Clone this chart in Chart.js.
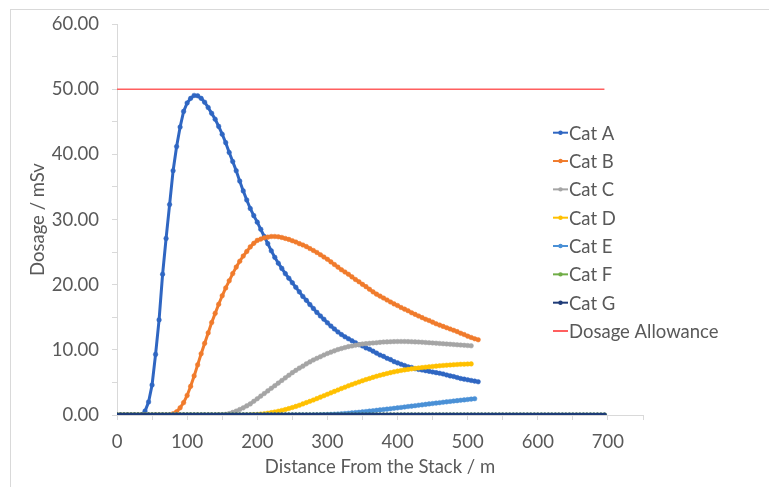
<!DOCTYPE html>
<html>
<head>
<meta charset="utf-8">
<script src="https://cdn.jsdelivr.net/npm/chart.js@4/dist/chart.umd.min.js"></script>
<style>
  html, body { margin: 0; padding: 0; background: #ffffff; }
  #wrap { width: 769px; height: 487px; position: relative; }
</style>
</head>
<body>
<div id="wrap"><canvas id="chart" width="769" height="487"></canvas></div>
<script>
// Distance from the stack (m), sampled every 5 m
const distance = [
  0, 5, 10, 15, 20, 25, 30, 35, 40, 45, 50, 55, 60, 65, 70, 75, 80, 85, 90, 95,
  100, 105, 110, 115, 120, 125, 130, 135, 140, 145, 150, 155, 160, 165, 170, 175, 180, 185, 190, 195,
  200, 205, 210, 215, 220, 225, 230, 235, 240, 245, 250, 255, 260, 265, 270, 275, 280, 285, 290, 295,
  300, 305, 310, 315, 320, 325, 330, 335, 340, 345, 350, 355, 360, 365, 370, 375, 380, 385, 390, 395,
  400, 405, 410, 415, 420, 425, 430, 435, 440, 445, 450, 455, 460, 465, 470, 475, 480, 485, 490, 495,
  500, 505, 510, 515, 520, 525, 530, 535, 540, 545, 550, 555, 560, 565, 570, 575, 580, 585, 590, 595,
  600, 605, 610, 615, 620, 625, 630, 635, 640, 645, 650, 655, 660, 665, 670, 675, 680, 685, 690, 695
];

// Dosage (mSv) per stability category
const catA = [
  0, 0, 0, 0, 0, 0, 0, 0, 0.6, 2.0, 4.6, 9.3, 14.6, 21.6, 27.1, 32.3, 37.5, 41.2, 44.2, 46.6,
  47.9, 48.6, 49.05, 49.0, 48.6, 48.0, 47.2, 46.3, 45.4, 44.3, 43.1, 41.8, 40.3, 38.9, 37.5, 35.9, 34.4, 33.0, 31.7, 30.6,
  29.6, 28.5, 27.4, 26.3, 25.2, 24.2, 23.3, 22.5, 21.7, 21.0, 20.3, 19.6, 18.9, 18.2, 17.6, 16.95, 16.35, 15.75, 15.2, 14.7,
  14.15, 13.65, 13.2, 12.75, 12.35, 12.0, 11.7, 11.4, 11.1, 10.8, 10.6, 10.3, 10.1, 9.8, 9.5, 9.2, 9.0, 8.7, 8.5, 8.2,
  8.0, 7.8, 7.6, 7.4, 7.3, 7.1, 7.0, 6.9, 6.8, 6.7, 6.6, 6.5, 6.4, 6.3, 6.15, 6.0, 5.9, 5.75, 5.6, 5.5,
  5.4, 5.3, 5.2, 5.1
];
const catB = [
  0, 0, 0, 0, 0, 0, 0, 0, 0, 0, 0, 0, 0, 0, 0, 0, 0.2, 0.5, 1.1, 1.9,
  3.0, 4.4, 6.0, 7.7, 9.4, 11.0, 12.6, 14.2, 15.6, 17.0, 18.3, 19.5, 20.6, 21.7, 22.7, 23.6, 24.4, 25.1, 25.8, 26.35,
  26.8, 27.0, 27.2, 27.3, 27.4, 27.4, 27.35, 27.25, 27.1, 26.95, 26.75, 26.55, 26.3, 26.1, 25.85, 25.55, 25.25, 24.95, 24.6, 24.25,
  23.9, 23.5, 23.1, 22.7, 22.3, 21.95, 21.6, 21.2, 20.8, 20.45, 20.05, 19.7, 19.3, 18.9, 18.55, 18.25, 17.95, 17.65, 17.35, 17.05,
  16.8, 16.5, 16.25, 16.0, 15.7, 15.45, 15.2, 14.95, 14.7, 14.5, 14.25, 14.0, 13.8, 13.6, 13.4, 13.2, 13.0, 12.8, 12.55, 12.35,
  12.1, 11.9, 11.7, 11.55
];
const catC = [
  0, 0, 0, 0, 0, 0, 0, 0, 0, 0, 0, 0, 0, 0, 0, 0, 0, 0, 0, 0,
  0, 0, 0, 0, 0, 0, 0, 0, 0, 0.02, 0.05, 0.1, 0.22, 0.4, 0.6, 0.85, 1.1, 1.4, 1.7, 2.1,
  2.5, 2.9, 3.3, 3.7, 4.1, 4.5, 4.9, 5.3, 5.7, 6.1, 6.5, 6.85, 7.2, 7.5, 7.85, 8.15, 8.45, 8.7, 8.95, 9.2,
  9.45, 9.65, 9.85, 10.05, 10.2, 10.35, 10.5, 10.6, 10.7, 10.8, 10.9, 10.95, 11.0, 11.05, 11.1, 11.15, 11.2, 11.22, 11.25, 11.27,
  11.28, 11.28, 11.28, 11.27, 11.25, 11.22, 11.2, 11.17, 11.13, 11.1, 11.06, 11.02, 10.98, 10.94, 10.9, 10.86, 10.82, 10.78, 10.74, 10.7,
  10.66, 10.62
];
const catD = [
  0, 0, 0, 0, 0, 0, 0, 0, 0, 0, 0, 0, 0, 0, 0, 0, 0, 0, 0, 0,
  0, 0, 0, 0, 0, 0, 0, 0, 0, 0, 0, 0, 0, 0, 0, 0, 0, 0, 0.02, 0.05,
  0.08, 0.13, 0.2, 0.28, 0.37, 0.47, 0.58, 0.7, 0.84, 0.99, 1.15, 1.32, 1.5, 1.7, 1.9, 2.1, 2.3, 2.52, 2.74, 2.96,
  3.18, 3.4, 3.62, 3.84, 4.06, 4.27, 4.48, 4.68, 4.88, 5.07, 5.26, 5.44, 5.61, 5.78, 5.94, 6.09, 6.23, 6.37, 6.5, 6.62,
  6.73, 6.83, 6.92, 7.0, 7.08, 7.15, 7.22, 7.28, 7.34, 7.4, 7.45, 7.5, 7.55, 7.6, 7.64, 7.68, 7.72, 7.75, 7.78, 7.8,
  7.82, 7.84
];
const catE = [
  0, 0, 0, 0, 0, 0, 0, 0, 0, 0, 0, 0, 0, 0, 0, 0, 0, 0, 0, 0,
  0, 0, 0, 0, 0, 0, 0, 0, 0, 0, 0, 0, 0, 0, 0, 0, 0, 0, 0, 0,
  0, 0, 0, 0, 0, 0, 0, 0, 0, 0, 0, 0, 0, 0, 0, 0, 0.01, 0.02, 0.03, 0.05,
  0.07, 0.09, 0.12, 0.15, 0.19, 0.23, 0.27, 0.32, 0.37, 0.42, 0.48, 0.54, 0.6, 0.66, 0.72, 0.78, 0.84, 0.9, 0.97, 1.03,
  1.1, 1.16, 1.23, 1.3, 1.36, 1.43, 1.5, 1.56, 1.63, 1.7, 1.76, 1.83, 1.89, 1.96, 2.02, 2.08, 2.14, 2.2, 2.26, 2.32,
  2.38, 2.44, 2.5
];
const catF = [
  0, 0, 0, 0, 0, 0, 0, 0, 0, 0, 0, 0, 0, 0, 0, 0, 0, 0, 0, 0,
  0, 0, 0, 0, 0, 0, 0, 0, 0, 0, 0, 0, 0, 0, 0, 0, 0, 0, 0, 0,
  0, 0, 0, 0, 0, 0, 0, 0, 0, 0, 0, 0, 0, 0, 0, 0, 0, 0, 0, 0,
  0, 0, 0, 0, 0, 0, 0, 0, 0, 0, 0, 0, 0, 0, 0, 0, 0, 0, 0, 0,
  0, 0, 0, 0, 0, 0, 0, 0, 0, 0, 0, 0, 0, 0, 0, 0, 0, 0, 0, 0,
  0, 0, 0, 0, 0, 0, 0, 0, 0, 0, 0, 0, 0, 0, 0, 0, 0, 0, 0, 0,
  0, 0, 0, 0, 0, 0, 0, 0, 0, 0, 0, 0, 0, 0, 0, 0, 0, 0, 0, 0
];
const catG = [
  0, 0, 0, 0, 0, 0, 0, 0, 0, 0, 0, 0, 0, 0, 0, 0, 0, 0, 0, 0,
  0, 0, 0, 0, 0, 0, 0, 0, 0, 0, 0, 0, 0, 0, 0, 0, 0, 0, 0, 0,
  0, 0, 0, 0, 0, 0, 0, 0, 0, 0, 0, 0, 0, 0, 0, 0, 0, 0, 0, 0,
  0, 0, 0, 0, 0, 0, 0, 0, 0, 0, 0, 0, 0, 0, 0, 0, 0, 0, 0, 0,
  0, 0, 0, 0, 0, 0, 0, 0, 0, 0, 0, 0, 0, 0, 0, 0, 0, 0, 0, 0,
  0, 0, 0, 0, 0, 0, 0, 0, 0, 0, 0, 0, 0, 0, 0, 0, 0, 0, 0, 0,
  0, 0, 0, 0, 0, 0, 0, 0, 0, 0, 0, 0, 0, 0, 0, 0, 0, 0, 0, 0
];

// Annual dosage allowance
const allowanceDistance = [0, 695];
const allowance = [50, 50];

const seriesNames = ['Cat A', 'Cat B', 'Cat C', 'Cat D', 'Cat E', 'Cat F', 'Cat G'];
const seriesValues = [catA, catB, catC, catD, catE, catF, catG];
const seriesColors = ['#2F66C2', '#F07B2C', '#A5A5A5', '#FFC000', '#4A90D6', '#70AD47', '#1F3C78'];
const allowanceName = 'Dosage Allowance';
const allowanceColor = '#FF5F5F';

const FONT = 'Lato';
const FONT_SIZE = 18.5;
const TEXT = '#595959';
const AXIS = '#D9D9D9';

function toPoints(xs, ys) {
  return ys.map((y, i) => ({ x: xs[i], y: y }));
}

const datasets = seriesValues.map((vals, i) => ({
  label: seriesNames[i],
  data: toPoints(distance, vals),
  borderColor: seriesColors[i],
  backgroundColor: seriesColors[i],
  borderWidth: 3,
  pointRadius: 2.3,
  pointBorderWidth: 0.5,
  pointBackgroundColor: seriesColors[i],
  pointBorderColor: seriesColors[i],
  tension: 0,
  order: 20 - i,
  hasMarker: true
}));
datasets.push({
  label: allowanceName,
  data: toPoints(allowanceDistance, allowance),
  borderColor: allowanceColor,
  backgroundColor: allowanceColor,
  borderWidth: 1.5,
  pointRadius: 0,
  order: 1,
  hasMarker: false
});

// Outer chart frame
const framePlugin = {
  id: 'frame',
  beforeDraw(chart) {
    const ctx = chart.ctx;
    ctx.save();
    ctx.fillStyle = '#ffffff';
    ctx.fillRect(0, 0, chart.width, chart.height);
    ctx.strokeStyle = AXIS;
    ctx.lineWidth = 1;
    ctx.strokeRect(10.5, 9.5, chart.width + 20, chart.height + 20);
    ctx.restore();
  }
};

// Legend column to the right of the plot: short line with marker, then the label
const sideLegend = {
  id: 'sideLegend',
  afterDraw(chart) {
    const ctx = chart.ctx;
    const x0 = 553, x1 = 568, textX = 569, top = 132.7, gap = 28.33;
    ctx.save();
    ctx.font = FONT_SIZE + 'px ' + FONT;
    ctx.textBaseline = 'middle';
    ctx.textAlign = 'left';
    chart.data.datasets.forEach((ds, i) => {
      const y = top + i * gap;
      ctx.strokeStyle = ds.borderColor;
      ctx.lineWidth = 2;
      ctx.beginPath();
      ctx.moveTo(x0, y);
      ctx.lineTo(x1, y);
      ctx.stroke();
      if (ds.hasMarker) {
        ctx.fillStyle = ds.borderColor;
        ctx.beginPath();
        ctx.arc((x0 + x1) / 2, y, 2.2, 0, Math.PI * 2);
        ctx.fill();
      }
      ctx.fillStyle = TEXT;
      ctx.fillText(ds.label, textX, y + 1);
    });
    ctx.restore();
  }
};

new Chart(document.getElementById('chart'), {
  type: 'line',
  data: { datasets: datasets },
  options: {
    responsive: false,
    animation: false,
    devicePixelRatio: 1,
    layout: { padding: { left: 0, right: 126, top: 24, bottom: 0 } },
    plugins: { legend: { display: false }, tooltip: { enabled: false } },
    scales: {
      x: {
        type: 'linear',
        min: 0,
        max: 750,
        afterFit(scale) { scale.height = 72; },
        border: { display: true, color: AXIS, width: 1 },
        grid: { drawOnChartArea: false, drawTicks: true, tickLength: 5, color: AXIS },
        ticks: {
          stepSize: 50,
          autoSkip: false,
          maxRotation: 0,
          padding: 11,
          color: TEXT,
          font: { family: FONT, size: FONT_SIZE },
          callback: (v) => (v % 100 === 0 && v <= 700 ? String(v) : '')
        },
        title: {
          display: true,
          text: 'Distance From the Stack / m',
          color: TEXT,
          font: { family: FONT, size: FONT_SIZE },
          padding: { top: 0, bottom: 9 }
        }
      },
      y: {
        type: 'linear',
        min: 0,
        max: 60,
        afterFit(scale) { scale.width = 117; },
        border: { display: true, color: AXIS, width: 1 },
        grid: { drawOnChartArea: false, drawTicks: true, tickLength: 5, color: AXIS },
        ticks: {
          stepSize: 5,
          autoSkip: false,
          padding: 13,
          color: TEXT,
          font: { family: FONT, size: FONT_SIZE },
          callback: (v) => (v % 10 === 0 ? v.toFixed(2) : '')
        },
        title: {
          display: true,
          text: 'Dosage / mSv',
          color: TEXT,
          font: { family: FONT, size: FONT_SIZE },
          padding: { top: 27, bottom: 0 }
        }
      }
    }
  },
  plugins: [framePlugin, sideLegend]
});
</script>
</body>
</html>
